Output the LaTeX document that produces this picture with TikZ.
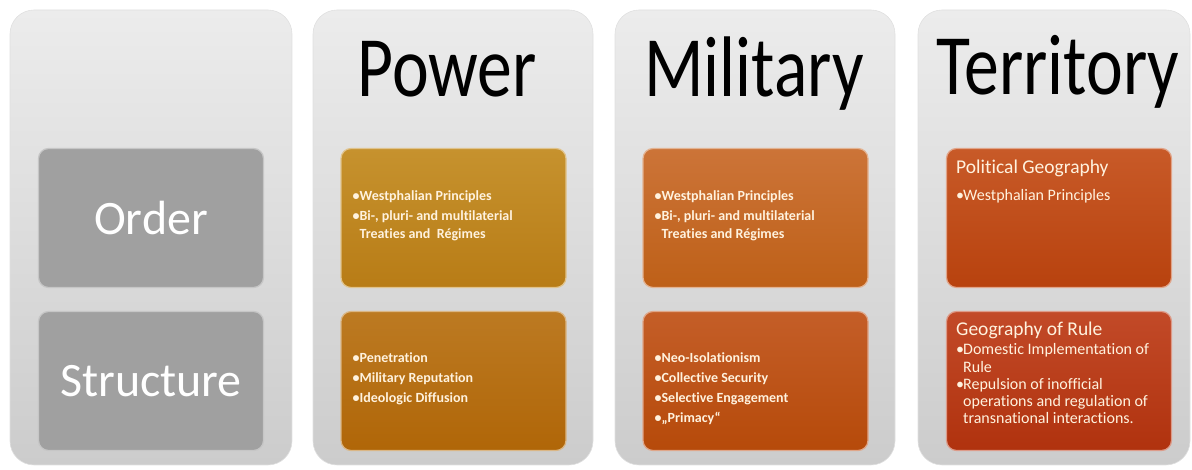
\documentclass[tikz,border=0pt]{standalone}
\usepackage{fontspec}
\setmainfont{Carlito}[Ligatures=NoCommon]
\usepackage{graphicx}
\usetikzlibrary{positioning}

\definecolor{coltop}{RGB}{236,236,236}
\definecolor{colbot}{RGB}{204,204,204}
\definecolor{ordgray}{RGB}{160,160,160}
\definecolor{cream}{RGB}{255,242,222}
%% power (gold), military (orange), territory (red-orange)
\definecolor{powA}{RGB}{198,146,46}
\definecolor{powB}{RGB}{184,124,22}
\definecolor{powC}{RGB}{188,122,34}
\definecolor{powD}{RGB}{176,102,8}
\definecolor{milA}{RGB}{204,116,56}
\definecolor{milB}{RGB}{190,96,24}
\definecolor{milC}{RGB}{196,94,40}
\definecolor{milD}{RGB}{182,74,10}
\definecolor{terA}{RGB}{200,90,40}
\definecolor{terB}{RGB}{184,66,14}
\definecolor{terC}{RGB}{194,74,40}
\definecolor{terD}{RGB}{176,50,14}

\newcommand{\itm}{\makebox[7pt][l]{•}}
\newcommand{\cnt}{\hspace*{7pt}}
\newcommand{\narrow}[1]{\scalebox{0.81}[1]{#1}}

\begin{document}
\begin{tikzpicture}[x=1pt, y=1pt,
  every node/.style={inner sep=0pt},
  column/.style={rounded corners=24pt, minimum height=455pt,
                 top color=coltop, bottom color=colbot,
                 draw=colbot!60!white, line width=0.6pt},
  cellbase/.style={rounded corners=10pt, minimum width=225pt,
                   minimum height=139pt, line width=1.2pt},
  cell/.style 2 args={cellbase, top color=#1, bottom color=#2,
                      draw=#1!55!white},
  greycell/.style={cellbase, fill=ordgray, draw=ordgray!60!white},
  title/.style={font=\fontsize{86}{86}\selectfont, anchor=base},
  stem/.style={font=\fontsize{48}{48}\selectfont, text=white},
  bul/.style={font=\bfseries\fontsize{14}{17.5}\selectfont, text=cream,
              align=left, anchor=west},
  head/.style={font=\fontsize{19.5}{22}\selectfont, text=cream,
               anchor=base west},
  tbul/.style={font=\fontsize{16}{17.2}\selectfont, text=cream,
               align=left, anchor=north west}
]
\useasboundingbox (0,0) rectangle (1192,470);

%% columns
\foreach \n/\x/\w in {colorder/151/282, colpower/453/280,
                      colmil/755/280, colterr/1054/272}
  \node[column, minimum width=\w pt] (\n) at (\x,232.5) {};

%% headings
\node[title] (tpower) at (447,373) {\narrow{Power}};
\node[title] (tmil)   at (754,373) {\narrow{Military}};
\node[title] (tterr)  at (1058,375) {\narrow{Territory}};

%% order / structure
\node[greycell] (order)  at (151,252) {};
\node[greycell] (struct) at (151,89)  {};
\node[stem] at (order)  {Order};
\node[stem] at (struct) {Structure};

%% power
\node[cell={powA}{powB}] (powup) at (453.5,252) {};
\node[cell={powC}{powD}] (powlo) at (453.5,89)  {};
\node[bul] (powuptx) at ([xshift=12pt,yshift=2pt]powup.west)
  {\itm Westphalian Principles\\[2.5pt]
   \itm Bi-, pluri- and multilaterial\\
   \cnt Treaties and\ \ Régimes};
\node[bul] (powlotx) at ([xshift=12pt,yshift=2pt]powlo.west)
  {\itm Penetration\\[2.5pt]
   \itm Military Reputation\\[2.5pt]
   \itm Ideologic Diffusion};

%% military
\node[cell={milA}{milB}] (milup) at (755.5,252) {};
\node[cell={milC}{milD}] (millo) at (755.5,89)  {};
\node[bul] (miluptx) at ([xshift=12pt,yshift=2pt]milup.west)
  {\itm Westphalian Principles\\[2.5pt]
   \itm Bi-, pluri- and multilaterial\\
   \cnt Treaties and Régimes};
\node[bul] (millotx) at ([xshift=12pt,yshift=-8pt]millo.west)
  {\itm Neo-Isolationism\\[2.5pt]
   \itm Collective Security\\[2.5pt]
   \itm Selective Engagement\\[2.5pt]
   \itm „Primacy“};

%% territory
\node[cell={terA}{terB}] (terup) at (1059,252) {};
\node[cell={terC}{terD}] (terlo) at (1059,89)  {};
\node[head] (teruphead) at (956,296) {Political Geography};
\node[tbul, below=12pt of teruphead.south west, anchor=north west] (terupbul)
  {\itm Westphalian Principles};
\node[head] (terlohead) at (956,134) {Geography of Rule};
\node[tbul, below=4pt of terlohead.south west, anchor=north west] (terlobul)
  {\itm Domestic Implementation of\\
   \cnt Rule\\
   \itm Repulsion of inofficial\\
   \cnt operations and regulation of\\
   \cnt transnational interactions.};
\end{tikzpicture}
\end{document}
